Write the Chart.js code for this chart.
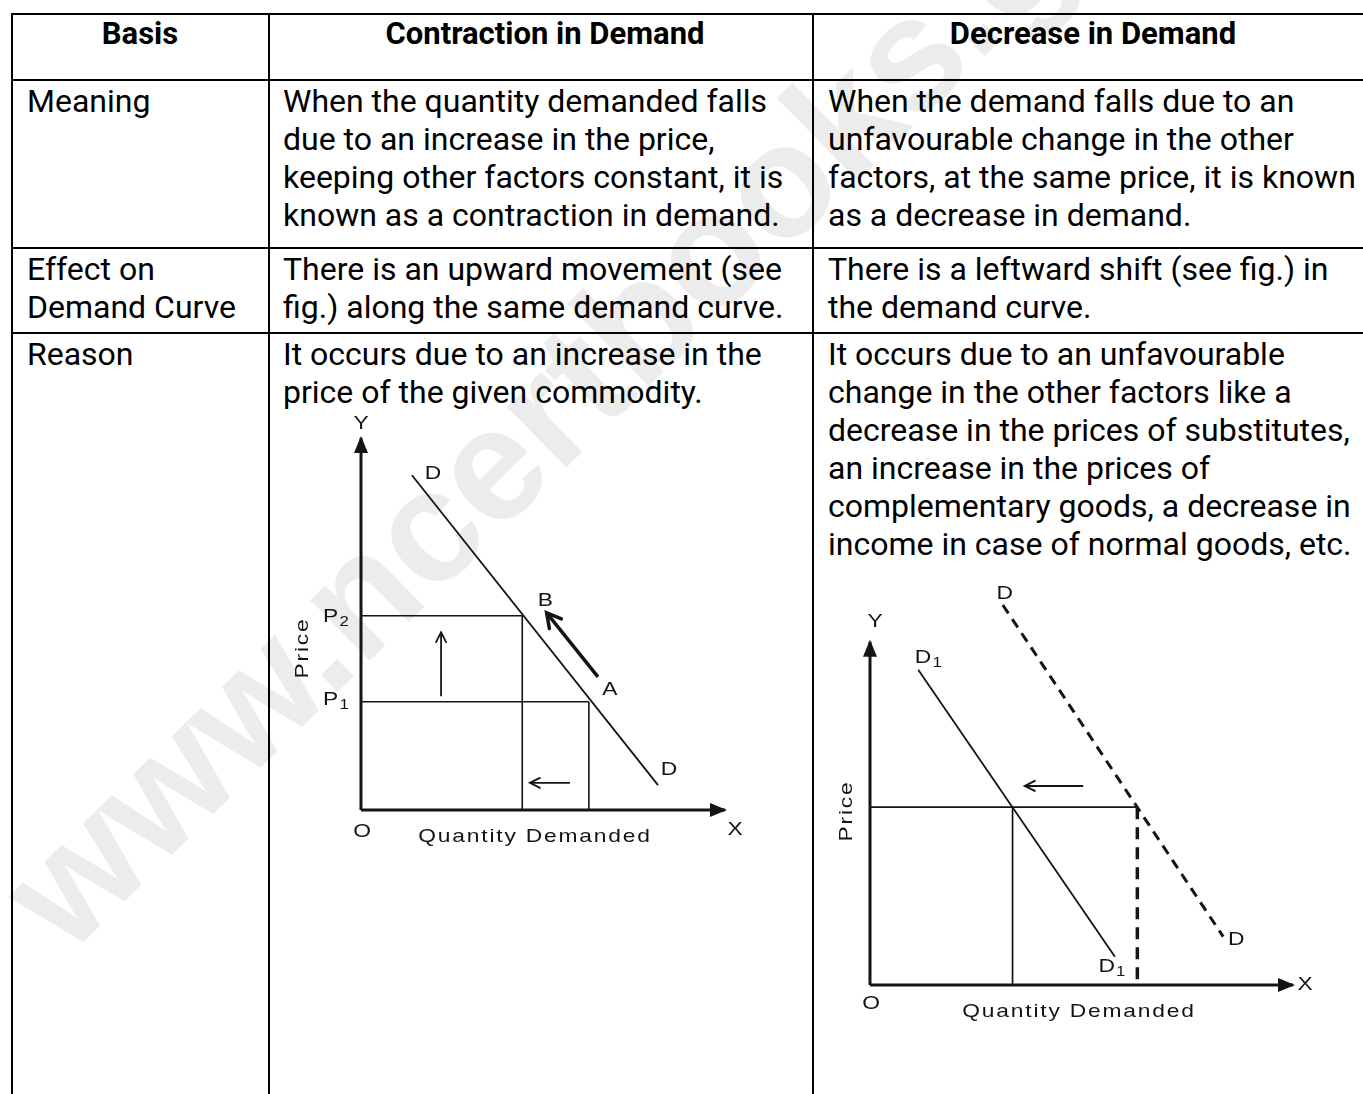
<!DOCTYPE html>
<html>
<head>
<meta charset="utf-8">
<title>Contraction in Demand vs Decrease in Demand</title>
<script src="https://cdn.jsdelivr.net/npm/chart.js@4.4.1/dist/chart.umd.min.js"></script>
<style>
  html, body { margin:0; padding:0; background:#fff; }
  body { width:1363px; height:1094px; overflow:hidden; position:relative; font-family:Roboto, "Noto Sans", sans-serif; color:#000; }
  .wm { position:absolute; left:68px; top:822px; font:bold 160px "Liberation Sans", Arial, sans-serif; line-height:160px; color:#ececec; white-space:nowrap; transform-origin:0 135px; transform:rotate(-44.5deg); z-index:0; }
  .h { position:absolute; background:#000; height:2px; z-index:2; }
  .v { position:absolute; background:#000; width:2px; z-index:2; }
  .t { position:absolute; font-size:32px; line-height:38px; white-space:nowrap; z-index:3; }
  .th { position:absolute; font-weight:bold; font-size:31px; line-height:38px; text-align:center; white-space:nowrap; z-index:3; width:600px; }
  canvas { position:absolute; z-index:4; }
</style>
</head>
<body>
<div class="wm">www.ncertbooks.guru</div>

<!-- table rules -->
<div class="h" style="left:11px; top:13px; width:1352px;"></div>
<div class="h" style="left:11px; top:79px; width:1352px;"></div>
<div class="h" style="left:11px; top:247px; width:1352px;"></div>
<div class="h" style="left:11px; top:332px; width:1352px;"></div>
<div class="v" style="left:11px; top:13px; height:1081px;"></div>
<div class="v" style="left:268px; top:13px; height:1081px;"></div>
<div class="v" style="left:812px; top:13px; height:1081px;"></div>

<!-- header -->
<div class="th" style="left:-160px; top:15px;">Basis</div>
<div class="th" style="left:245px; top:15px;">Contraction in Demand</div>
<div class="th" style="left:793px; top:15px;">Decrease in Demand</div>

<!-- row: Meaning -->
<div class="t" style="left:27px; top:82px;">Meaning</div>
<div class="t" style="left:283px; top:82px;">When the quantity demanded falls<br>due to an increase in the price,<br>keeping other factors constant, it is<br>known as a contraction in demand.</div>
<div class="t" style="left:828px; top:82px;">When the demand falls due to an<br>unfavourable change in the other<br>factors, at the same price, it is known<br>as a decrease in demand.</div>

<!-- row: Effect -->
<div class="t" style="left:27px; top:250px;">Effect on<br>Demand Curve</div>
<div class="t" style="left:283px; top:250px;">There is an upward movement (see<br>fig.) along the same demand curve.</div>
<div class="t" style="left:828px; top:250px;">There is a leftward shift (see fig.) in<br>the demand curve.</div>

<!-- row: Reason -->
<div class="t" style="left:27px; top:335px;">Reason</div>
<div class="t" style="left:283px; top:335px;">It occurs due to an increase in the<br>price of the given commodity.</div>
<div class="t" style="left:828px; top:335px;">It occurs due to an unfavourable<br>change in the other factors like a<br>decrease in the prices of substitutes,<br>an increase in the prices of<br>complementary goods, a decrease in<br>income in case of normal goods, etc.</div>

<canvas id="contraction" width="470" height="440" style="left:280px; top:415px; width:470px; height:440px;"></canvas>
<canvas id="decrease" width="500" height="455" style="left:826px; top:575px; width:500px; height:455px;"></canvas>

<script>
// ---------------- DATA ----------------
// Figure 1: contraction in demand (movement along the same curve)
const axisRange = [0, 100];
const contractionDemandCurve = [{x:14, y:90}, {x:81.6, y:6.7}];   // D ... D
const contractionPrices = [29.1, 52.2];                           // P1, P2
const contractionQuantities = [62.6, 44.3];                       // quantity at A (P1), at B (P2)
const movementAlongCurve = [{x:65.1, y:35.8}, {x:51, y:53}];      // bold arrow A -> B
const priceRiseArrow = [{x:22, y:30.6}, {x:22, y:47.8}];
const quantityFallArrow = [{x:57.4, y:7.3}, {x:46.4, y:7.3}];

// Figure 2: decrease in demand (leftward shift of the curve)
const originalDemandCurve = [{x:31.4, y:110.7}, {x:83.5, y:14.1}];  // D ... D (dashed)
const decreasedDemandCurve = [{x:11.4, y:91.8}, {x:57.9, y:8.2}];   // D1 ... D1
const samePrice = [51.8];
const decreaseQuantities = [33.7, 63.2];                            // after shift, before shift
const leftwardShiftArrow = [{x:50.4, y:58}, {x:36.6, y:58}];

// ---------------- HELPERS ----------------
const INK = '#141414';
function seg(points, width, extra) {
  return Object.assign({
    data: points, showLine: true, pointRadius: 0, pointHitRadius: 0,
    borderColor: INK, backgroundColor: INK, borderWidth: width,
    tension: 0, fill: false, clip: false
  }, extra || {});
}

function drawText(ctx, text, sub, cx, cy, opts) {
  const size = opts.size || 19;
  ctx.save();
  ctx.translate(cx, cy);
  if (opts.rotate) ctx.rotate(-Math.PI / 2);
  ctx.scale(opts.stretch || 1.2, 1);
  ctx.fillStyle = INK;
  ctx.textBaseline = 'middle';
  ctx.font = size + 'px "Liberation Sans", Arial, sans-serif';
  if ('letterSpacing' in ctx) ctx.letterSpacing = (opts.spacing || 0) + 'px';
  const w = ctx.measureText(text).width;
  let ws = 0;
  const subSize = Math.round(size * 0.72);
  if (sub) {
    ctx.font = subSize + 'px "Liberation Sans", Arial, sans-serif';
    ws = ctx.measureText(sub).width + 1;
  }
  const start = -(w + ws) / 2;
  ctx.textAlign = 'left';
  ctx.font = size + 'px "Liberation Sans", Arial, sans-serif';
  ctx.fillText(text, start, 0);
  if (sub) {
    ctx.font = subSize + 'px "Liberation Sans", Arial, sans-serif';
    ctx.fillText(sub, start + w + 1, size * 0.3);
  }
  ctx.restore();
}

const arrowPlugin = {
  id: 'arrowHeads',
  afterDatasetsDraw(chart) {
    const ctx = chart.ctx;
    chart.data.datasets.forEach((ds, i) => {
      if (!ds.arrow) return;
      const pts = chart.getDatasetMeta(i).data;
      const p0 = pts[pts.length - 2], p1 = pts[pts.length - 1];
      const a = Math.atan2(p1.y - p0.y, p1.x - p0.x);
      ctx.save();
      ctx.translate(p1.x, p1.y);
      ctx.rotate(a);
      ctx.fillStyle = INK; ctx.strokeStyle = INK;
      if (ds.arrow === 'solid') {
        ctx.beginPath();
        ctx.moveTo(2, 0); ctx.lineTo(-15, -7); ctx.lineTo(-15, 7); ctx.closePath();
        ctx.fill();
      } else {
        const L = ds.arrow === 'bold' ? 14 : 10;
        const s = ds.arrow === 'bold' ? 0.55 : 0.5;
        ctx.lineWidth = ds.borderWidth;
        ctx.lineCap = 'round';
        ctx.beginPath();
        ctx.moveTo(-L, -L * s); ctx.lineTo(0, 0); ctx.lineTo(-L, L * s);
        ctx.stroke();
      }
      ctx.restore();
    });
  }
};

const labelPlugin = {
  id: 'econLabels',
  afterDraw(chart, args, opts) {
    const ctx = chart.ctx, xs = chart.scales.x, ys = chart.scales.y;
    (opts.items || []).forEach(it => {
      const p = it.at();
      const cx = xs.getPixelForValue(p.x) + it.dx;
      const cy = ys.getPixelForValue(p.y) + it.dy;
      drawText(ctx, it.text, it.sub, cx, cy, it.style || {});
    });
  }
};

function makeChart(id, datasets, padding, items) {
  return new Chart(document.getElementById(id), {
    type: 'scatter',
    data: { datasets },
    plugins: [arrowPlugin, labelPlugin],
    options: {
      responsive: false, animation: false, devicePixelRatio: 1, events: [],
      layout: { padding },
      scales: {
        x: { type: 'linear', min: axisRange[0], max: axisRange[1], display: false },
        y: { type: 'linear', min: axisRange[0], max: axisRange[1], display: false }
      },
      plugins: { legend: { display: false }, tooltip: { enabled: false }, econLabels: { items } }
    }
  });
}

// ---------------- FIGURE 1 ----------------
const [P1, P2] = contractionPrices;
const [QA, QB] = contractionQuantities;
const origin = () => ({x: axisRange[0], y: axisRange[0]});
const axisLabel = { size: 19, stretch: 1.2, spacing: 1.5 };

makeChart('contraction', [
  seg([{x:0, y:0}, {x:0, y:axisRange[1]}], 3, {arrow: 'solid'}),
  seg([{x:0, y:0}, {x:axisRange[1], y:0}], 3, {arrow: 'solid'}),
  seg(contractionDemandCurve, 1.8),
  seg([{x:0, y:P2}, {x:QB, y:P2}], 1.6),
  seg([{x:0, y:P1}, {x:QA, y:P1}], 1.6),
  seg([{x:QB, y:P2}, {x:QB, y:0}], 1.6),
  seg([{x:QA, y:P1}, {x:QA, y:0}], 1.6),
  seg(movementAlongCurve, 3.5, {arrow: 'bold'}),
  seg(priceRiseArrow, 1.8, {arrow: 'open'}),
  seg(quantityFallArrow, 1.8, {arrow: 'open'})
], { left: 81, right: 25, top: 23, bottom: 45 }, [
  { text: 'Y', at: () => ({x:0, y:axisRange[1]}), dx: 0, dy: -14 },
  { text: 'D', at: () => contractionDemandCurve[0], dx: 21, dy: -1 },
  { text: 'B', at: () => ({x:QB, y:P2}), dx: 23, dy: -15 },
  { text: 'A', at: () => ({x:QA, y:P1}), dx: 21, dy: -12 },
  { text: 'D', at: () => contractionDemandCurve[1], dx: 11, dy: -15 },
  { text: 'P', sub: '2', at: () => ({x:0, y:P2}), dx: -25, dy: 1 },
  { text: 'P', sub: '1', at: () => ({x:0, y:P1}), dx: -25, dy: -2 },
  { text: 'Price', at: origin, dx: -58, dy: -162, style: Object.assign({rotate: true}, axisLabel) },
  { text: 'O', at: origin, dx: 1, dy: 22 },
  { text: 'Quantity Demanded', at: origin, dx: 174, dy: 27, style: axisLabel },
  { text: 'X', at: () => ({x:axisRange[1], y:0}), dx: 10, dy: 20 }
]);

// ---------------- FIGURE 2 ----------------
const [Q1, Q0] = decreaseQuantities;
const PR = samePrice[0];

makeChart('decrease', [
  seg([{x:0, y:0}, {x:0, y:axisRange[1]}], 3, {arrow: 'solid'}),
  seg([{x:0, y:0}, {x:axisRange[1], y:0}], 3, {arrow: 'solid'}),
  seg(decreasedDemandCurve, 1.8),
  seg(originalDemandCurve, 3, {borderDash: [10, 7]}),
  seg([{x:0, y:PR}, {x:Q0, y:PR}], 1.7),
  seg([{x:Q1, y:PR}, {x:Q1, y:0}], 1.7),
  seg([{x:Q0, y:PR}, {x:Q0, y:0}], 3.5, {borderDash: [12, 8]}),
  seg(leftwardShiftArrow, 2, {arrow: 'open'})
], { left: 44, right: 33, top: 66.7, bottom: 45 }, [
  { text: 'D', at: () => originalDemandCurve[0], dx: 2, dy: -11 },
  { text: 'Y', at: () => ({x:0, y:axisRange[1]}), dx: 5, dy: -20 },
  { text: 'D', sub: '1', at: () => decreasedDemandCurve[0], dx: 10, dy: -12 },
  { text: 'D', at: () => originalDemandCurve[1], dx: 13, dy: 3 },
  { text: 'D', sub: '1', at: () => decreasedDemandCurve[1], dx: -3, dy: 10 },
  { text: 'Price', at: origin, dx: -23, dy: -174, style: Object.assign({rotate: true}, axisLabel) },
  { text: 'O', at: origin, dx: 1, dy: 19 },
  { text: 'Quantity Demanded', at: origin, dx: 209, dy: 27, style: axisLabel },
  { text: 'X', at: () => ({x:axisRange[1], y:0}), dx: 12, dy: 0 }
]);
</script>
</body>
</html>
